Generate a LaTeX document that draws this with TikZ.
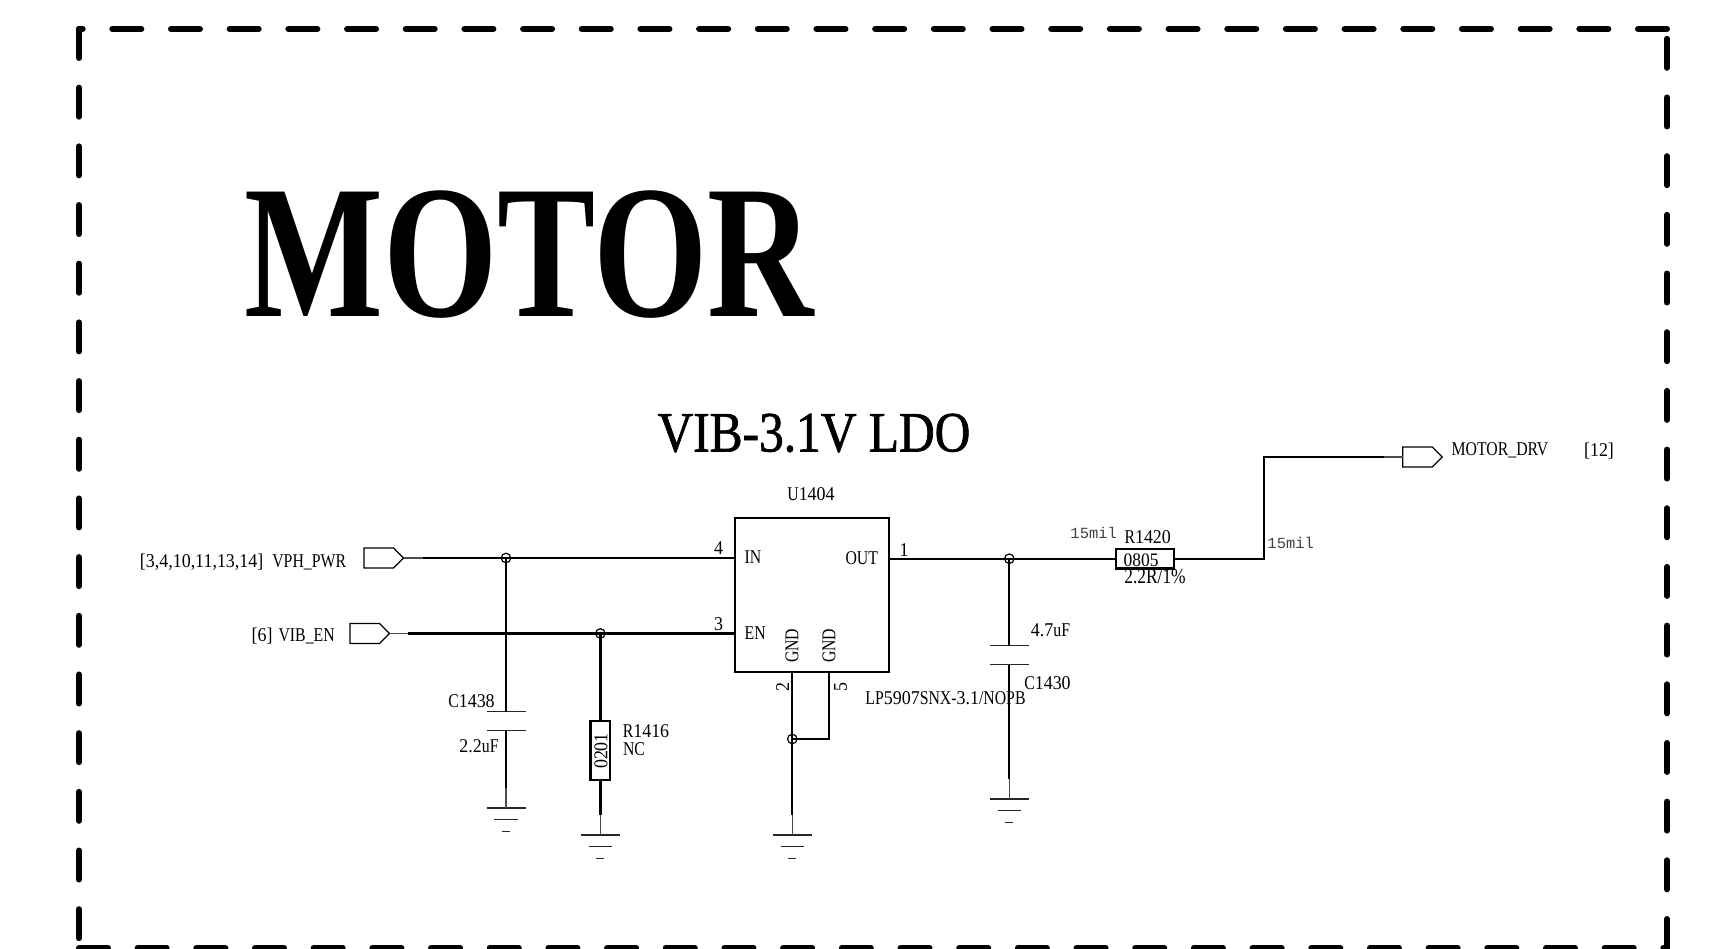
\documentclass[tikz,border=0pt]{standalone}
\usepackage{fontspec}
\usetikzlibrary{shapes.symbols}
\newfontfamily\schfont[FakeStretch=0.81]{Liberation Serif}
\newfontfamily\numfont[FakeStretch=0.92]{Liberation Serif}
\newfontfamily\headfont[FakeStretch=0.775]{Liberation Serif Bold}
\newfontfamily\subheadfont[FakeStretch=0.867,FakeBold=1.2]{Liberation Serif}
\newfontfamily\milfont{Liberation Mono}
\newcommand{\nm}[1]{{\numfont #1}}
\tikzset{
    every node/.style={inner sep=0pt, outer sep=0pt},
    lbl/.style={font=\schfont\fontsize{19.5}{20}\selectfont},
    mil/.style={font=\milfont\fontsize{15.5}{16}\selectfont, text=black!75},
    wire/.style={line width=2.2pt},
    stub/.style={line width=1.1pt, black!70},
    frameline/.style={line width=6pt, line cap=round, dash pattern=on 29pt off 29.68pt},
    port/.style={draw, line width=1.2pt, shape=signal, signal to=east, signal from=nowhere, signal pointer angle=90, minimum width=39.5pt, minimum height=20pt, anchor=west},
    junction/.style={draw, circle, line width=1.2pt, minimum size=9.5pt},
    resbox/.style={draw, line width=2.2pt, minimum width=19.8pt, minimum height=58.3pt},
    capgap/.style={minimum width=39pt, minimum height=19pt},
    plate/.style={line width=1.1pt, black!85},
    gndbars/.pic={
        \draw [plate] (-19.5,0) -- (19.5,0);
        \draw [plate] (-11.7,-11.7) -- (11.7,-11.7);
        \draw [plate] (-4,-23.4) -- (4,-23.4);
    }
}
\begin{document}
\begin{tikzpicture}[x=1pt,y=1pt]
    \useasboundingbox (0,0) rectangle (1709,-949);
    % dashed frame
    \coordinate (tl) at (79,-29);
    \coordinate (tr) at (1667,-29);
    \coordinate (br) at (1667,-948);
    \coordinate (bl) at (79,-948);
    \draw [frameline] (br) -- (tr);
    \draw [frameline] (tr) -- (tl);
    \draw [frameline] (tl) -- (bl);
    \draw [frameline] (bl) -- (br);
    % titles
    \node (title) at (529,-254.5) {\headfont\fontsize{190}{195}\selectfont MOTOR};
    \node (subtitle) at (814,-433) {\subheadfont\fontsize{57}{60}\selectfont VIB-3.1V LDO};
    % regulator
    \node [draw, line width=2.2pt, minimum width=154pt, minimum height=154pt] (u1404) at (811.7,-594.7) {};
    \node [lbl] (refu) at (811,-494) {U\nm{1404}};
    \node [lbl, anchor=west] (pinin) at (744.7,-557.5) {IN};
    \node [lbl, anchor=east] (pinout) at (878,-558.5) {OUT};
    \node [lbl, anchor=west] (pinen) at (744.7,-633.5) {EN};
    \node [lbl, rotate=90] (gnda) at (792,-645.7) {GND};
    \node [lbl, rotate=90] (gndb) at (829,-645.7) {GND};
    \node [lbl] (num4) at (718.6,-548) {\nm{4}};
    \node [lbl] (num3) at (718.6,-624) {\nm{3}};
    \node [lbl] (num1) at (904,-550) {\nm{1}};
    \node [lbl, rotate=90] (num2) at (782.7,-686.7) {\nm{2}};
    \node [lbl, rotate=90] (num5) at (840.7,-686.7) {\nm{5}};
    \node [lbl] (partu) at (945.5,-698) {LP\nm{5907}SNX-\nm{3.1}/NOPB};
    \coordinate (p4) at (734.7,-558);
    \coordinate (p3) at (734.7,-633.5);
    \coordinate (p1) at (888.7,-558.7);
    \coordinate (p2) at (792.3,-671.7);
    \coordinate (p5) at (829,-671.7);
    % ports
    \node [port] (vph) at (364,-558) {};
    \node [port] (vib) at (350,-633.5) {};
    \node [port] (drv) at (1402.7,-457) {};
    \node [lbl] (vphlbl) at (243,-562) {\nm{[3,4,10,11,13,14]}\hspace{9pt}VPH\_PWR};
    \node [lbl] (viblbl) at (293.2,-635.7) {\nm{[6]}\hspace{6pt}VIB\_EN};
    \node [lbl] (drvlbl) at (1500,-450) {MOTOR\_DRV};
    \node [lbl] (drvnum) at (1599,-451) {\nm{[12]}};
    % junctions
    \node [junction] (j1) at (506,-558) {};
    \node [junction] (j2) at (600.4,-633.5) {};
    \node [junction] (j3) at (1009.3,-558.7) {};
    \node [junction] (j4) at (792.3,-739) {};
    % passives
    \node [capgap] (c1438) at (506,-721.2) {};
    \node [capgap] (c1430) at (1009.3,-655) {};
    \foreach \c in {c1438,c1430} {
        \draw [plate] (\c.north west) -- (\c.north east);
        \draw [plate] (\c.south west) -- (\c.south east);
    }
    \node [resbox] (r1416) at (600.4,-750.5) {};
    \node [draw, line width=2.2pt, minimum width=58.3pt, minimum height=19.7pt] (r1420) at (1144.9,-558.7) {};
    \node [lbl, rotate=90] (size1416) at (601,-751) {\nm{0201}};
    \node [lbl, font=\numfont\fontsize{19}{20}\selectfont] (size1420) at (1141,-560.5) {0805};
    \node [lbl] (refc1438) at (471.5,-700.7) {C\nm{1438}};
    \node [lbl] (valc1438) at (479,-745.7) {\nm{2.2}uF};
    \node [lbl] (refr1416) at (646,-731.4) {R\nm{1416}};
    \node [lbl, anchor=west] (valr1416) at (623,-749.4) {NC};
    \node [lbl] (refc1430) at (1047.5,-683.4) {C\nm{1430}};
    \node [lbl] (valc1430) at (1050.5,-630.7) {\nm{4.7}uF};
    \node [lbl] (refr1420) at (1147.7,-537.4) {R\nm{1420}};
    \node [lbl, font=\schfont\fontsize{21.5}{23}\selectfont] (valr1420) at (1155,-576.7) {2.2R/1\%};
    \node [mil] (mila) at (1093.7,-533) {15mil};
    \node [mil] (milb) at (1290.7,-542.5) {15mil};
    % grounds
    \coordinate (g1) at (506,-808);
    \coordinate (g2) at (600.4,-835);
    \coordinate (g3) at (792.3,-835);
    \coordinate (g4) at (1009.3,-799);
    \coordinate (h1) at (506,-788);
    \coordinate (h2) at (600.4,-815);
    \coordinate (h3) at (792.3,-815);
    \coordinate (h4) at (1009.3,-779);
    \foreach \g in {g1,g2,g3,g4} {
        \pic at (\g) {gndbars};
    }
    % wires
    \coordinate (s1) at (422.5,-558);
    \coordinate (s2) at (407.9,-633.5);
    \coordinate (s3) at (1384,-457);
    \coordinate (t1) at (1264.3,-558.7);
    \coordinate (t2) at (1264.3,-457);
    \draw [stub] (vph.east) -- (s1);
    \draw [stub] (vib.east) -- (s2);
    \draw [stub] (s3) -- (drv.west);
    \draw [stub] (h1) -- (g1);
    \draw [stub] (h2) -- (g2);
    \draw [stub] (h3) -- (g3);
    \draw [stub] (h4) -- (g4);
    \draw [wire] (s1) -- (j1.center) -- (p4);
    \draw [wire] (s2) -- (j2.center) -- (p3);
    \draw [wire] (j1.center) -- (c1438.north);
    \draw [wire] (c1438.south) -- (h1);
    \draw [wire] (j2.center) -- (r1416.north);
    \draw [wire] (r1416.south) -- (h2);
    \draw [wire] (p1) -- (j3.center) -- (r1420.west);
    \draw [wire] (r1420.east) -- (t1) -- (t2) -- (s3);
    \draw [wire] (j3.center) -- (c1430.north);
    \draw [wire] (c1430.south) -- (h4);
    \draw [wire] (p2) -- (h3);
    \draw [wire] (p5) |- (j4.center);
\end{tikzpicture}
\end{document}
